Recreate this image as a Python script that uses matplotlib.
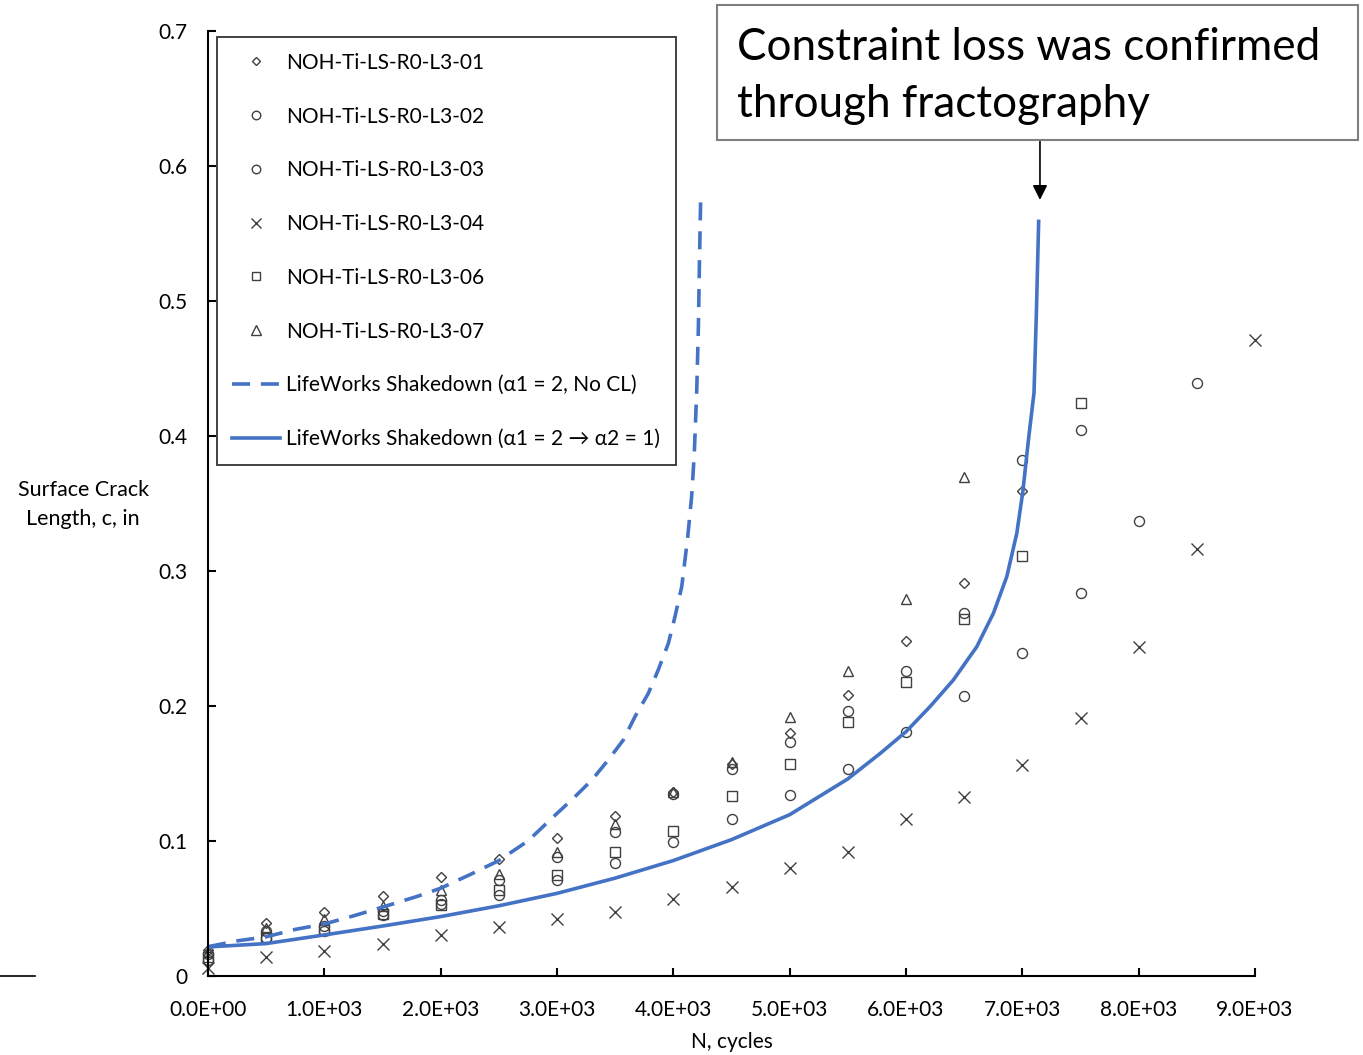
import matplotlib
matplotlib.use("Agg")
import matplotlib.pyplot as plt
from matplotlib.lines import Line2D
from matplotlib.patches import Rectangle
from matplotlib.ticker import FuncFormatter, MultipleLocator

plt.rcParams["font.family"] = ["Lato", "DejaVu Sans"]

# test data: cycles vs. surface crack length (in)
cycles_01 = [0, 500, 1000, 1500, 2000, 2500, 3000, 3500, 4000, 4500, 5000, 5500, 6000, 6500, 7000]
crack_01 = [0.019, 0.0395, 0.0476, 0.059, 0.073, 0.087, 0.102, 0.1187, 0.136, 0.157,
            0.180, 0.208, 0.2484, 0.2909, 0.3593]

cycles_02 = [0, 500, 1000, 1500, 2000, 2500, 3000, 3500, 4000, 4500, 5000, 5500, 6000, 6500, 7000, 7500]
crack_02 = [0.016, 0.033, 0.037, 0.048, 0.056, 0.071, 0.088, 0.107, 0.135, 0.153,
            0.173, 0.1966, 0.2257, 0.2687, 0.3822, 0.4044]

cycles_03 = [0, 500, 1000, 1500, 2000, 2500, 3000, 3500, 4000, 4500, 5000, 5500, 6000,
             6500, 7000, 7500, 8000, 8500]
crack_03 = [0.012, 0.028, 0.033, 0.045, 0.053, 0.060, 0.071, 0.084, 0.099, 0.1166,
            0.134, 0.1536, 0.181, 0.2074, 0.239, 0.2835, 0.3373, 0.4395]

cycles_04 = [0, 500, 1000, 1500, 2000, 2500, 3000, 3500, 4000, 4500, 5000, 5500, 6000,
             6500, 7000, 7500, 8000, 8500, 9000]
crack_04 = [0.006, 0.014, 0.0185, 0.024, 0.030, 0.036, 0.042, 0.0476, 0.057, 0.066,
            0.080, 0.092, 0.1163, 0.1323, 0.156, 0.1909, 0.2435, 0.316, 0.471]

cycles_06 = [0, 500, 1000, 1500, 2000, 2500, 3000, 3500, 4000, 4500, 5000, 5500, 6000, 6500, 7000, 7500]
crack_06 = [0.014, 0.029, 0.034, 0.046, 0.0525, 0.064, 0.075, 0.092, 0.1077, 0.133,
            0.157, 0.188, 0.218, 0.2644, 0.311, 0.4247]

cycles_07 = [0, 500, 1000, 1500, 2000, 2500, 3000, 3500, 4000, 4500, 5000, 5500, 6000, 6500]
crack_07 = [0.018, 0.0355, 0.042, 0.052, 0.064, 0.0755, 0.092, 0.1126, 0.136, 0.1587,
            0.192, 0.226, 0.2795, 0.3696]

# LifeWorks predictions
nocl_cycles = [0, 250, 500, 750, 1000, 1250, 1500, 1800, 2000, 2250, 2500, 2750, 2970,
               3140, 3300, 3440, 3570, 3670, 3785, 3870, 3957, 4014, 4072, 4123, 4158,
               4180, 4201, 4215, 4224, 4235]
nocl_crack = [0.0217, 0.026, 0.029, 0.0345, 0.0385, 0.0445, 0.051, 0.059, 0.065, 0.075,
              0.0855, 0.1, 0.118, 0.1316, 0.1452, 0.160, 0.1748, 0.1921, 0.2094, 0.2267,
              0.2464, 0.2662, 0.2884, 0.3247, 0.356, 0.387, 0.434, 0.48, 0.527, 0.577]

cl_cycles = [0, 500, 1000, 1500, 2000, 2500, 3000, 3500, 4000, 4500, 5000, 5500, 5780,
             6000, 6206, 6407, 6608, 6751, 6866, 6952, 7004, 7052, 7100, 7120, 7140]
cl_crack = [0.0215, 0.024, 0.0304, 0.037, 0.044, 0.052, 0.0612, 0.0725, 0.0855, 0.101,
            0.1195, 0.146, 0.165, 0.181, 0.1995, 0.2193, 0.2439, 0.2687, 0.2958, 0.3279,
            0.3588, 0.397, 0.432, 0.49, 0.559]

tests = [
    ("NOH-Ti-LS-R0-L3-01", cycles_01, crack_01, "D", 5.2),
    ("NOH-Ti-LS-R0-L3-02", cycles_02, crack_02, "o", 7.2),
    ("NOH-Ti-LS-R0-L3-03", cycles_03, crack_03, "o", 7.2),
    ("NOH-Ti-LS-R0-L3-04", cycles_04, crack_04, "x", 8),
    ("NOH-Ti-LS-R0-L3-06", cycles_06, crack_06, "s", 6.8),
    ("NOH-Ti-LS-R0-L3-07", cycles_07, crack_07, "^", 7.8),
]

blue = "#4472C4"
marker_grey = "#404040"

fig = plt.figure(figsize=(13.63, 10.55), dpi=100)
ax = fig.add_axes([0.1526, 0.0749, 0.7682, 0.8957])

for name, xs, ys, mk, ms in tests:
    ax.plot(xs, ys, linestyle="none", marker=mk, markersize=ms,
            markerfacecolor="none", markeredgecolor=marker_grey,
            markeredgewidth=1.0, label=name, clip_on=False)

ax.plot(nocl_cycles, nocl_crack, color=blue, linewidth=2.6, dashes=(5, 3),
        label="LifeWorks Shakedown (\u03b11 = 2, No CL)")
ax.plot(cl_cycles, cl_crack, color=blue, linewidth=2.6,
        label="LifeWorks Shakedown (\u03b11 = 2 \u2192 \u03b12 = 1)")

ax.set_xlim(0, 9000)
ax.set_ylim(0, 0.7)
ax.xaxis.set_major_locator(MultipleLocator(1000))
ax.yaxis.set_major_locator(MultipleLocator(0.1))
ax.xaxis.set_major_formatter(FuncFormatter(lambda v, p: "%.1E" % v))
ax.yaxis.set_major_formatter(FuncFormatter(lambda v, p: "0" if v == 0 else "%.1f" % v))

for side in ("top", "right"):
    ax.spines[side].set_visible(False)
for side in ("left", "bottom"):
    ax.spines[side].set_linewidth(1.5)

ax.tick_params(axis="both", direction="in", length=6, width=1.5, labelsize=15)
ax.tick_params(axis="y", pad=15)
ax.tick_params(axis="x", pad=17)

fig.text(0.061, 0.5218, "Surface Crack\nLength, c, in", ha="center", va="center",
         fontsize=15.5, linespacing=1.55)
fig.text(0.537, 0.012, "N, cycles", ha="center", va="center", fontsize=15)

leg = ax.legend(loc="upper left", bbox_to_anchor=(0.0083, 0.9935), fontsize=15,
                frameon=True, fancybox=False, edgecolor="black", markerscale=0.85,
                handlelength=2.3, handletextpad=0.3, labelspacing=1.62,
                borderpad=0.75, borderaxespad=0)
leg.get_frame().set_linewidth(1.3)

# callout box with arrow pointing at the end of the constraint-loss curve
fig.add_artist(Rectangle((0.526, 0.8673), 0.4703, 0.128, transform=fig.transFigure,
                         facecolor="white", edgecolor="#7f7f7f", linewidth=1.5))
fig.text(0.5407, 0.9431, "Constraint loss was confirmed", ha="left", va="baseline",
         fontsize=31.7)
fig.text(0.5407, 0.8891, "through fractography", ha="left", va="baseline",
         fontsize=31.7)
ax.annotate("", xy=(0.763, 0.8105), xytext=(0.763, 0.8673),
            xycoords="figure fraction", textcoords="figure fraction",
            arrowprops=dict(arrowstyle="-|>", color="black", lw=1.2,
                            mutation_scale=22, shrinkA=0, shrinkB=0))

fig.add_artist(Line2D([0.0, 0.026], [0.0749, 0.0749], color="black", linewidth=1.2))

fig.savefig("out.png", dpi=100)
